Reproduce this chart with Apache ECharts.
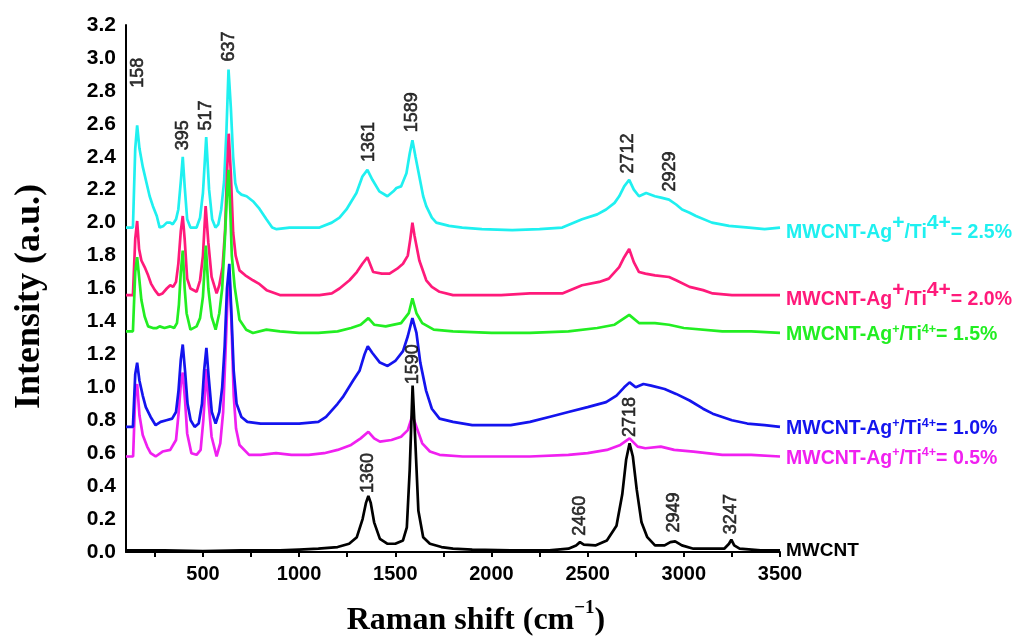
<!DOCTYPE html>
<html>
<head>
<meta charset="utf-8">
<script src="https://cdn.jsdelivr.net/npm/echarts@6/dist/echarts.min.js"></script>
<style>
html,body{margin:0;padding:0;background:#fff;}
#chart{width:1017px;height:637px;}
</style>
</head>
<body>
<div id="chart"></div>
<script>
// ---- data (Raman shift cm^-1, intensity a.u.) ----
const xTickLabels = [500, 1000, 1500, 2000, 2500, 3000, 3500];
const xTicks = [250, 500, 750, 1000, 1250, 1500, 1750, 2000, 2250, 2500, 2750, 3000, 3250, 3500];

const cyan25 = [[100,1.97],[136,1.97],[148,2.45],[158,2.59],[170,2.45],[187,2.34],[205,2.25],[223,2.16],[240,2.10],[260,2.04],[275,1.97],[295,1.98],[312,2.00],[330,2.00],[343,1.99],[360,2.02],[372,2.08],[385,2.25],[395,2.40],[405,2.22],[418,2.02],[435,1.97],[467,1.97],[485,2.03],[500,2.18],[517,2.52],[532,2.20],[548,2.02],[565,1.97],[580,1.99],[595,2.08],[610,2.25],[622,2.55],[633,2.93],[645,2.70],[657,2.40],[668,2.24],[680,2.19],[700,2.17],[727,2.16],[760,2.13],[790,2.09],[830,2.02],[860,1.97],[883,1.96],[950,1.97],[1020,1.97],[1106,1.97],[1170,2.00],[1210,2.03],[1246,2.08],[1298,2.18],[1329,2.28],[1355,2.32],[1381,2.26],[1417,2.19],[1459,2.16],[1490,2.19],[1506,2.21],[1530,2.22],[1558,2.30],[1575,2.42],[1589,2.50],[1605,2.40],[1625,2.28],[1645,2.16],[1661,2.10],[1690,2.03],[1713,2.00],[1780,1.98],[1848,1.97],[1950,1.96],[2108,1.955],[2250,1.96],[2368,1.97],[2471,2.02],[2550,2.05],[2596,2.08],[2640,2.12],[2664,2.16],[2690,2.22],[2716,2.26],[2740,2.20],[2767,2.16],[2804,2.18],[2850,2.16],[2887,2.15],[2923,2.14],[2960,2.11],[2991,2.08],[3030,2.06],[3063,2.04],[3146,2.00],[3235,1.98],[3338,1.97],[3420,1.96],[3500,1.97]];

const pink20 = [[100,1.56],[136,1.56],[148,1.90],[158,2.01],[168,1.84],[180,1.77],[197,1.73],[215,1.68],[230,1.63],[250,1.59],[270,1.56],[290,1.57],[312,1.60],[330,1.62],[345,1.61],[360,1.64],[372,1.75],[385,1.95],[395,2.04],[405,1.90],[418,1.66],[435,1.60],[467,1.58],[485,1.65],[500,1.80],[514,2.10],[528,1.88],[545,1.67],[571,1.57],[585,1.62],[602,1.73],[615,1.95],[625,2.30],[634,2.54],[645,2.30],[657,1.94],[670,1.80],[690,1.71],[720,1.68],[760,1.65],[790,1.63],[831,1.59],[900,1.56],[1000,1.56],[1106,1.56],[1170,1.57],[1210,1.60],[1262,1.65],[1300,1.70],[1329,1.75],[1355,1.79],[1385,1.70],[1430,1.69],[1470,1.69],[1510,1.72],[1540,1.75],[1565,1.80],[1578,1.90],[1589,2.00],[1600,1.92],[1625,1.77],[1661,1.65],[1690,1.61],[1730,1.58],[1800,1.56],[1900,1.56],[2050,1.56],[2200,1.57],[2368,1.57],[2471,1.62],[2560,1.64],[2610,1.66],[2664,1.73],[2690,1.79],[2716,1.84],[2740,1.76],[2767,1.70],[2800,1.69],[2850,1.68],[2923,1.67],[2960,1.65],[3030,1.61],[3100,1.59],[3150,1.57],[3250,1.56],[3350,1.56],[3500,1.56]];

const green15 = [[100,1.34],[136,1.34],[148,1.70],[158,1.79],[168,1.67],[180,1.53],[197,1.43],[215,1.37],[240,1.36],[260,1.36],[275,1.37],[300,1.36],[330,1.37],[350,1.36],[365,1.39],[375,1.50],[385,1.70],[395,1.83],[405,1.60],[415,1.45],[435,1.35],[467,1.37],[485,1.42],[500,1.55],[515,1.86],[528,1.60],[545,1.43],[566,1.35],[585,1.45],[600,1.60],[614,1.90],[626,2.20],[633,2.32],[643,2.05],[650,1.80],[665,1.61],[690,1.41],[725,1.35],[760,1.33],[830,1.35],[900,1.34],[1000,1.33],[1100,1.33],[1200,1.34],[1270,1.36],[1320,1.38],[1360,1.42],[1390,1.38],[1450,1.37],[1530,1.39],[1570,1.45],[1589,1.54],[1610,1.45],[1640,1.39],[1700,1.35],[1800,1.34],[2000,1.33],[2200,1.33],[2400,1.34],[2550,1.36],[2640,1.38],[2716,1.44],[2767,1.39],[2850,1.39],[2923,1.38],[3000,1.36],[3200,1.34],[3350,1.34],[3500,1.33]];

const blue10 = [[100,0.76],[136,0.76],[148,1.08],[158,1.15],[170,1.04],[187,0.95],[203,0.88],[228,0.82],[254,0.77],[280,0.79],[310,0.80],[340,0.81],[360,0.85],[373,0.98],[385,1.17],[395,1.26],[407,1.10],[420,0.90],[436,0.80],[457,0.76],[478,0.78],[495,0.90],[506,1.10],[518,1.24],[530,1.06],[546,0.85],[566,0.78],[585,0.85],[600,1.00],[613,1.25],[625,1.60],[637,1.75],[648,1.45],[660,1.10],[675,0.90],[700,0.82],[731,0.79],[800,0.78],[880,0.78],[1000,0.78],[1100,0.79],[1140,0.82],[1200,0.90],[1227,0.94],[1280,1.04],[1314,1.10],[1340,1.20],[1357,1.25],[1380,1.21],[1420,1.15],[1460,1.13],[1500,1.16],[1540,1.22],[1565,1.31],[1589,1.42],[1610,1.33],[1630,1.15],[1660,0.98],[1690,0.87],[1730,0.81],[1800,0.79],[1900,0.77],[2000,0.77],[2100,0.77],[2200,0.79],[2300,0.82],[2400,0.85],[2500,0.88],[2596,0.91],[2650,0.95],[2690,1.00],[2718,1.03],[2750,1.00],[2790,1.02],[2830,1.01],[2900,0.99],[2960,0.96],[3030,0.92],[3100,0.87],[3150,0.84],[3250,0.80],[3330,0.78],[3420,0.77],[3500,0.76]];

const magenta05 = [[100,0.58],[137,0.58],[148,0.95],[158,1.02],[170,0.83],[187,0.71],[210,0.64],[228,0.60],[254,0.58],[290,0.61],[330,0.62],[360,0.68],[374,0.85],[385,1.02],[395,1.09],[407,0.92],[418,0.72],[440,0.60],[467,0.59],[488,0.62],[502,0.80],[518,1.11],[530,0.90],[545,0.70],[571,0.58],[590,0.66],[605,0.85],[617,1.20],[628,1.55],[637,1.70],[648,1.40],[660,0.95],[672,0.75],[690,0.65],[740,0.59],[800,0.59],[880,0.60],[960,0.59],[1050,0.59],[1130,0.60],[1200,0.62],[1270,0.65],[1320,0.69],[1360,0.73],[1390,0.69],[1420,0.67],[1480,0.68],[1530,0.70],[1565,0.74],[1589,0.83],[1610,0.76],[1640,0.66],[1680,0.61],[1730,0.59],[1850,0.58],[2000,0.58],[2200,0.58],[2400,0.59],[2500,0.60],[2600,0.62],[2670,0.65],[2718,0.69],[2760,0.64],[2800,0.63],[2880,0.64],[2950,0.62],[3050,0.61],[3200,0.59],[3350,0.59],[3500,0.58]];

const mwcnt = [[100,0.01],[300,0.01],[500,0.005],[700,0.01],[900,0.01],[1000,0.015],[1100,0.02],[1200,0.03],[1260,0.05],[1300,0.09],[1330,0.20],[1348,0.30],[1360,0.34],[1372,0.30],[1390,0.18],[1420,0.08],[1460,0.05],[1500,0.05],[1540,0.07],[1560,0.15],[1575,0.50],[1590,1.01],[1603,0.70],[1620,0.25],[1645,0.09],[1680,0.05],[1740,0.03],[1800,0.02],[1900,0.015],[2100,0.01],[2300,0.01],[2400,0.02],[2440,0.04],[2460,0.06],[2480,0.045],[2540,0.04],[2600,0.07],[2650,0.16],[2680,0.35],[2700,0.56],[2718,0.66],[2735,0.58],[2755,0.38],[2780,0.18],[2810,0.09],[2850,0.04],[2900,0.04],[2930,0.06],[2955,0.065],[2990,0.04],[3050,0.02],[3150,0.02],[3210,0.02],[3235,0.05],[3247,0.075],[3262,0.04],[3290,0.02],[3400,0.01],[3500,0.01]];

// peak annotations: [x, y (text centre), text]
const peakLabels = [[160,2.91,'158'],[395,2.53,'395'],[517,2.65,'517'],[637,3.07,'637'],[1361,2.49,'1361'],[1589,2.67,'1589'],[2712,2.42,'2712'],[2929,2.31,'2929'],[1360,0.48,'1360'],[1590,1.14,'1590'],[2718,0.82,'2718'],[2460,0.22,'2460'],[2949,0.24,'2949'],[3247,0.23,'3247']];

const ratios = ['2.5%','2.0%','1.5%','1.0%','0.5%'];
// ---- chart ----
const chart = echarts.init(document.getElementById('chart'));
const SANS = 'Liberation Sans, Arial, sans-serif';
const SERIF = 'Liberation Serif, Times New Roman, serif';

function richFor(color, big) {
  return {
    a: {fontFamily: SANS, fontWeight: 'bold', fontSize: 19.5, color: color, lineHeight: 24, verticalAlign: 'bottom'},
    s: {fontFamily: SANS, fontWeight: 'bold', fontSize: big ? 21 : 12.5, color: color, lineHeight: big ? 30 : 14, verticalAlign: 'top', padding: big ? [0,0,0,0] : [2,0,0,0]}
  };
}
function ratioLabel(i, color, big) {
  return {
    show: true,
    distance: 6,
    formatter: '{a|MWCNT-Ag}{s|+}{a|/Ti}{s|4+}{a|= ' + ratios[i] + '}',
    rich: richFor(color, big)
  };
}
function lineSeries(name, data, color, endLabel) {
  return {
    name: name, type: 'line', data: data, showSymbol: false, symbol: 'none',
    lineStyle: {color: color, width: 2.7}, itemStyle: {color: color},
    endLabel: endLabel, silent: true, clip: false
  };
}

const colors = {cyan: '#1ff0f0', pink: '#ff1a7a', green: '#22ee22', blue: '#1414ee', magenta: '#f020f0', black: '#000000'};

const option = {
  animation: false,
  backgroundColor: '#ffffff',
  grid: {left: 126, right: 237, top: 25, bottom: 85, containLabel: false, outerBoundsMode: 'none'},
  xAxis: {
    type: 'value', min: 100, max: 3500,
    name: '{t|Raman shift (cm}{u|\u22121}{t|)}',
    nameLocation: 'middle', nameGap: 47,
    nameTextStyle: {padding: [0, 0, 0, 46], rich: {
      t: {fontFamily: SERIF, fontWeight: 'bold', fontSize: 32, color: '#000', lineHeight: 38, verticalAlign: 'bottom'},
      u: {fontFamily: SERIF, fontWeight: 'bold', fontSize: 19, color: '#000', lineHeight: 38, verticalAlign: 'top'}
    }},
    axisLine: {show: true, onZero: false, lineStyle: {color: '#000', width: 2}},
    axisTick: {show: true, length: 5, inside: false, lineStyle: {color: '#000', width: 2}, customValues: xTicks},
    axisLabel: {fontFamily: SANS, fontWeight: 'bold', fontSize: 20, color: '#000', margin: 12,
      customValues: xTickLabels, formatter: v => String(v)},
    splitLine: {show: false}
  },
  yAxis: {
    type: 'value', min: 0, max: 3.2, interval: 0.2,
    name: 'Intensity (a.u.)', nameLocation: 'middle', nameGap: 78,
    nameTextStyle: {fontFamily: SERIF, fontWeight: 'bold', fontSize: 36, color: '#000', padding: [0, 16, 0, 0]},
    axisLine: {show: true, onZero: false, lineStyle: {color: '#000', width: 2}},
    axisTick: {show: false},
    axisLabel: {fontFamily: SANS, fontWeight: 'bold', fontSize: 21, color: '#000', margin: 10,
      formatter: v => v.toFixed(1)},
    splitLine: {show: false}
  },
  series: [
    lineSeries('2.5%', cyan25, colors.cyan, ratioLabel(0, colors.cyan, true)),
    lineSeries('2.0%', pink20, colors.pink, ratioLabel(1, colors.pink, true)),
    lineSeries('1.5%', green15, colors.green, ratioLabel(2, colors.green, false)),
    lineSeries('0.5%', magenta05, colors.magenta, ratioLabel(4, colors.magenta, false)),
    lineSeries('1.0%', blue10, colors.blue, ratioLabel(3, colors.blue, false)),
    lineSeries('MWCNT', mwcnt, colors.black, {show: true, distance: 6, formatter: 'MWCNT',
      fontFamily: SANS, fontWeight: 'bold', fontSize: 19, color: '#000'}),
    {
      type: 'scatter', data: peakLabels, symbolSize: 0, silent: true, z: 10,
      label: {show: true, position: 'inside', rotate: 90, formatter: p => p.data[2],
        fontFamily: SANS, fontWeight: 'normal', fontSize: 18, color: '#000',
        textBorderColor: '#000', textBorderWidth: 0.6, textShadowBlur: 0}
    }
  ]
};
chart.setOption(option);
</script>
</body>
</html>
